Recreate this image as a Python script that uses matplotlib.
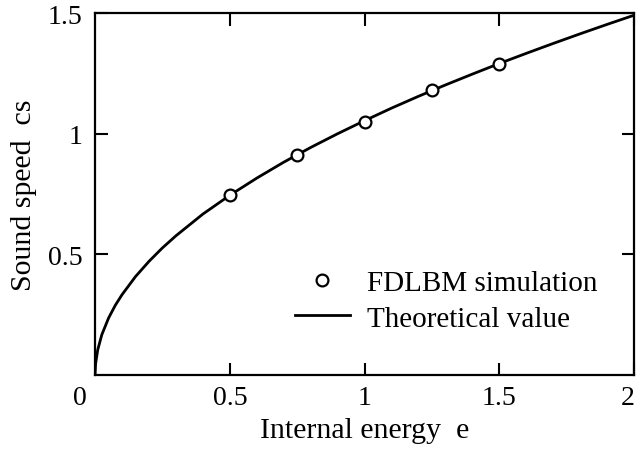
import matplotlib
matplotlib.use("Agg")
import matplotlib.pyplot as plt

plt.rcParams['font.family'] = ['Liberation Serif', 'DejaVu Serif']

# simulation points
simE = [0.5, 0.75, 1.0, 1.25, 1.5]
simCs = [0.746, 0.912, 1.050, 1.181, 1.289]

# theoretical curve, values
theoryE = [0.0, 0.002, 0.01, 0.025, 0.05, 0.075, 0.1, 0.15, 0.2, 0.25, 0.3, 0.4, 0.5,
           0.6, 0.7, 0.8, 0.9, 1.0, 1.1, 1.2, 1.3, 1.4, 1.5, 1.6, 1.7, 1.8, 1.9, 2.0]
theoryCs = [0.0, 0.047, 0.105, 0.167, 0.236, 0.289, 0.333, 0.408, 0.471, 0.527, 0.577,
            0.667, 0.745, 0.816, 0.882, 0.943, 1.000, 1.054, 1.106, 1.155, 1.202, 1.247,
            1.291, 1.333, 1.374, 1.414, 1.453, 1.491]

xTicks = [0.5, 1.0, 1.5, 2.0]
xLabels = ['0.5', '1', '1.5', '2']
yTicks = [0.5, 1.0, 1.5]
yLabels = ['0.5', '1', '1.5']

fig = plt.figure(figsize=(6.38, 4.52), dpi=100)
ax = fig.add_axes([0.149, 0.168, 0.845, 0.801])

ax.plot(theoryE, theoryCs, color='black', lw=2.0, label='Theoretical value', zorder=2)
ax.plot(simE, simCs, linestyle='None', marker='o', markersize=8.5, markerfacecolor='white',
        markeredgecolor='black', markeredgewidth=1.6, label='FDLBM simulation', zorder=3)

ax.set_xlim(0, 2)
ax.set_ylim(0, 1.5)
ax.set_xticks(xTicks)
ax.set_xticklabels(xLabels)
ax.set_yticks(yTicks)
ax.set_yticklabels(yLabels)
ax.tick_params(direction='in', length=9, width=1.5, top=True, right=True, labelsize=20)
ax.tick_params(axis='x', pad=7)
ax.tick_params(axis='y', pad=9)
for s in ax.spines.values():
    s.set_linewidth(1.6)

# the last x label hugs the right edge, as in the original
ax.get_xticklabels()[-1].set_horizontalalignment('right')

# the shared origin label sits just left of the corner
ax.annotate('0', xy=(0, 0), xytext=(-11, -7), textcoords='offset points',
            ha='center', va='top', fontsize=20)

ax.set_xlabel('Internal energy  e', fontsize=21.5, labelpad=5)
ax.set_ylabel('Sound speed  cs', fontsize=21.5, labelpad=8)

handles, labels = ax.get_legend_handles_labels()
ax.legend(handles[::-1], labels[::-1], loc='upper left', bbox_to_anchor=(0.37, 0.29),
          frameon=False, fontsize=21, borderpad=0, borderaxespad=0, handlelength=1.9,
          handletextpad=0.6, labelspacing=0.3)

fig.savefig('out.png', dpi=100)
